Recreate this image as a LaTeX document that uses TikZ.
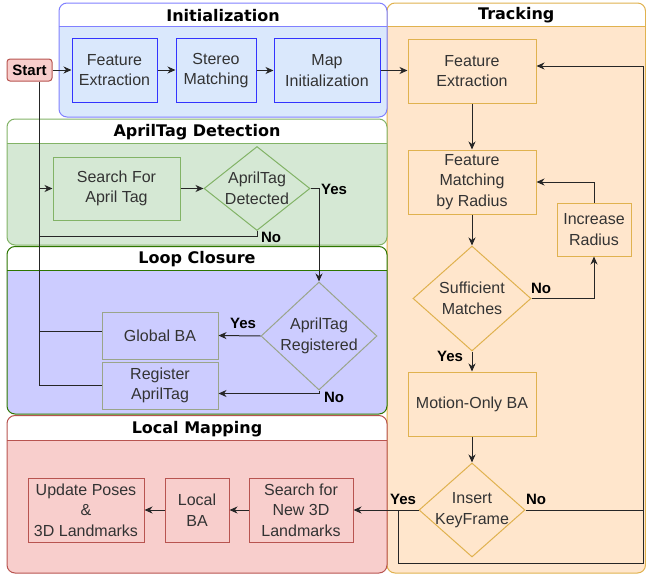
\documentclass[tikz,border=0pt]{standalone}
\usepackage{fontspec}
\setmainfont{Liberation Sans}
\newfontfamily\titlefont{DejaVu Sans}
\usetikzlibrary{arrows.meta,shapes.geometric,calc}

\definecolor{initfill}{HTML}{DAE8FC}
\definecolor{initbord}{HTML}{8080FF}
\definecolor{initnode}{HTML}{3333FF}
\definecolor{trkfill}{HTML}{FFE6CC}
\definecolor{trkbord}{HTML}{E0B24F}
\definecolor{atfill}{HTML}{D5E8D4}
\definecolor{atbord}{HTML}{82B366}
\definecolor{lcfill}{HTML}{CCCCFF}
\definecolor{lcbord}{HTML}{2D7600}
\definecolor{lcnode}{HTML}{9AA58A}
\definecolor{lmfill}{HTML}{F8CECC}
\definecolor{lmbord}{HTML}{B85450}
\definecolor{txt}{HTML}{333333}

\newcommand{\swimlane}[9]{%
  \fill[#6,rounded corners=8pt] (#1,#2) rectangle (#3,#4);
  \begin{scope}
    \clip (#1,#2) rectangle (#3,#5);
    \fill[white,rounded corners=8pt] (#1,#2) rectangle (#3,#4);
  \end{scope}
  \draw[#7,line width=1pt,rounded corners=8pt] (#1,#2) rectangle (#3,#4);
  \draw[#7,line width=1pt] (#1,#5) -- (#3,#5);
  \node[lanetitle] (#9) at ({(#1+#3)/2},{(#2+#5)/2+1}) {#8};
}

\tikzset{
  lanetitle/.style={font=\titlefont\bfseries\fontsize{16}{19}\selectfont, text=black, inner sep=0pt},
  box/.style={draw, line width=1pt, align=center, inner sep=1pt, text=txt,
    font=\fontsize{16}{20.5}\selectfont},
  dia/.style={diamond, draw, line width=1pt, inner sep=0pt},
  dtext/.style={align=center, text=txt, inner sep=0pt, font=\fontsize{16}{20.5}\selectfont},
  lbl/.style={font=\bfseries\fontsize{15}{18}\selectfont, text=black, inner sep=0pt},
  line/.style={draw=black!85, line width=1pt},
  arr/.style={line, -{Stealth[length=8pt,width=7pt,inset=2.5pt]}},
}

\begin{document}
\begin{tikzpicture}[x=1pt,y=-1pt]
\useasboundingbox (0,0) rectangle (646,576);

% containers
\swimlane{387}{3}{645.5}{573}{26}{trkfill}{trkbord}{Tracking}{ttrk}
\swimlane{59}{3}{387}{117}{26}{initfill}{initbord}{Initialization}{tinit}
\swimlane{7}{119}{387}{245}{143}{atfill}{atbord}{AprilTag Detection}{tatd}
\swimlane{7}{246.5}{387}{414}{270}{lcfill}{lcbord}{Loop Closure}{tlc}
\swimlane{7}{415.5}{387}{573}{440}{lmfill}{lmbord}{Local Mapping}{tlm}

% initialization
\node[box, draw=lmbord, fill=lmfill, rounded corners=3pt, minimum width=45pt, minimum height=22pt,
  font=\bfseries\fontsize{15}{18}\selectfont, text=black] (start) at (29.5,70) {Start};
\node[box, draw=initnode, fill=initfill, minimum width=85pt, minimum height=64pt] (ife) at (114.5,70) {Feature\\Extraction};
\node[box, draw=initnode, fill=initfill, minimum width=80pt, minimum height=64pt] (sm) at (216,70.5) {Stereo\\Matching};
\node[box, draw=initnode, fill=initfill, minimum width=106pt, minimum height=64pt] (mi) at (327,70.5) {Map\\Initialization};

% tracking
\node[box, draw=trkbord, fill=trkfill, minimum width=128pt, minimum height=64pt] (tfe) at (472,71) {Feature\\Extraction};
\node[box, draw=trkbord, fill=trkfill, minimum width=128pt, minimum height=64pt] (fm) at (472,182) {Feature\\Matching\\by Radius};
\node[box, draw=trkbord, fill=trkfill, minimum width=74pt, minimum height=53pt] (ir) at (594,229.5) {Increase\\Radius};
\node[dia, draw=trkbord, fill=trkfill, minimum width=118pt, minimum height=105pt,
  label={[dtext]center:Sufficient\\Matches}] (sufm) at (472,298.5) {};
\node[box, draw=trkbord, fill=trkfill, minimum width=128pt, minimum height=64pt] (mob) at (472,404) {Motion-Only BA};
\node[dia, draw=trkbord, fill=trkfill, minimum width=106pt, minimum height=94pt,
  label={[dtext]center:Insert\\KeyFrame}] (ikf) at (472,510) {};

% apriltag detection
\node[box, draw=atbord, fill=atfill, minimum width=127pt, minimum height=63pt] (sfat) at (116.5,188.5) {Search For\\April Tag};
\node[dia, draw=atbord, fill=atfill, minimum width=106pt, minimum height=84pt,
  label={[dtext]center:AprilTag\\Detected}] (atd) at (257,188.5) {};

% loop closure
\node[dia, draw=lcnode, fill=lcfill, minimum width=116pt, minimum height=108pt,
  label={[dtext]center:AprilTag\\Registered}] (atr) at (319,336) {};
\node[box, draw=lcnode, fill=lcfill, minimum width=116pt, minimum height=47pt] (gba) at (160,335.5) {Global BA};
\node[box, draw=lcnode, fill=lcfill, minimum width=116pt, minimum height=47pt] (rat) at (160,385.5) {Register\\AprilTag};

% local mapping
\node[box, draw=lmbord, fill=lmfill, minimum width=104pt, minimum height=64pt] (sf3d) at (301,510) {Search for\\New 3D\\Landmarks};
\node[box, draw=lmbord, fill=lmfill, minimum width=64pt, minimum height=64pt] (lba) at (197,510) {Local\\BA};
\node[box, draw=lmbord, fill=lmfill, minimum width=116pt, minimum height=64pt] (up) at (86,510) {Update Poses\\\&\\3D Landmarks};

% helper coordinates
\coordinate (vx) at (39,0);
\coordinate (rx) at (643,0);
\coordinate (yj) at (398,510);
\coordinate (bot) at (0,563);
\coordinate (gbaw) at ([yshift=4.5pt]gba.west);
\coordinate (ftin) at ([yshift=5pt]tfe.east);
\coordinate (ratin) at ([yshift=-8pt]rat.east);
\coordinate (nob) at ([yshift=-5pt]atd.south);

% connectors: initialization
\draw[arr] (start.east) -- (ife.west);
\draw[arr] (ife.east) -- (ife.east -| sm.west);
\draw[arr] (sm.east) -- (sm.east -| mi.west);
\draw[arr] (mi.east) -- (mi.east -| tfe.west);

% tracking
\draw[arr] (tfe.south) -- (fm.north);
\draw[arr] (fm.south) -- (sufm.north);
\draw[arr] (sufm.east) -| (ir.south);
\draw[arr] (ir.north) |- (fm.east);
\draw[arr] (sufm.south) -- (mob.north);
\draw[arr] (mob.south) -- (ikf.north);
\draw[arr] (ikf.east) -- (ikf.east -| rx) |- (ftin);
\draw[arr] (ikf.west) -- (sf3d.east);
\draw[line] (yj) -- (yj |- bot) -- (rx |- bot) -- (rx |- ikf.east);

% local mapping
\draw[arr] (sf3d.west) -- (lba.east);
\draw[arr] (lba.west) -- (up.east);

% apriltag detection
\draw[line] (start.south -| vx) -- (vx |- rat.west);
\draw[arr] (vx |- sfat.west) -- (sfat.west);
\draw[arr] (sfat.east) -- (atd.west);
\draw[arr] (atd.east) -| (atr.north);
\draw[line] (atd.south) -- (nob) -- (vx |- nob);

% loop closure
\draw[arr] (atr.west) -- (gba.east);
\draw[arr] (atr.south) |- (ratin);
\draw[line] (gbaw) -- (vx |- gbaw);
\draw[line] (rat.west) -- (vx |- rat.west);

% labels
\node[lbl] (lno1) at (541,288) {No};
\node[lbl] (lyes1) at (450,356) {Yes};
\node[lbl] (lyes2) at (403,499) {Yes};
\node[lbl] (lno2) at (536,499) {No};
\node[lbl] (lyes3) at (334,189) {Yes};
\node[lbl] (lno3) at (271,237) {No};
\node[lbl] (lyes4) at (243,323) {Yes};
\node[lbl] (lno4) at (334,397) {No};
\end{tikzpicture}
\end{document}
